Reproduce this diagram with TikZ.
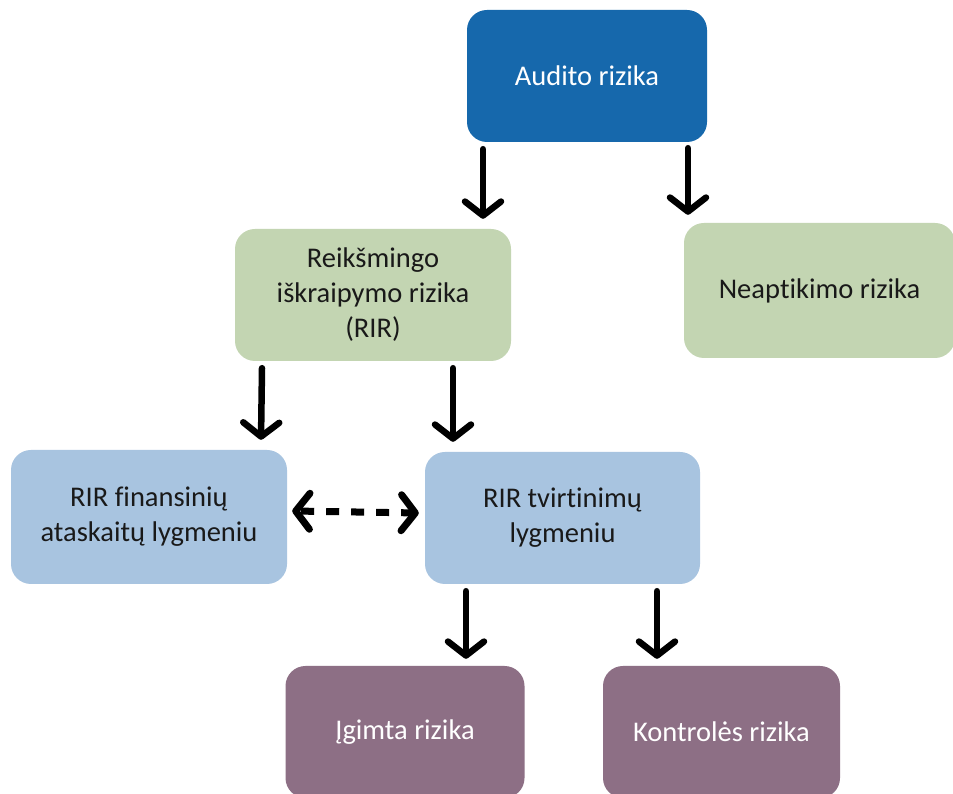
\documentclass[tikz,border=0pt]{standalone}
\usepackage{fontspec}
\setmainfont{Carlito}[RawFeature={-liga;-clig;-calt;-dlig}]
\usetikzlibrary{arrows.meta}
\definecolor{cdark}{RGB}{22,104,172}
\definecolor{cgreen}{RGB}{195,213,178}
\definecolor{cblue}{RGB}{168,196,224}
\definecolor{cpurp}{RGB}{141,111,133}
\tikzset{
  box/.style={rectangle, rounded corners=20pt, inner sep=0pt, align=center,
    font=\fontsize{28.5}{35}\selectfont},
  tipb/.tip={Straight Barb[length=14pt,width=36pt,line cap=round,line join=round]},
  arr/.style={line width=6.5pt, line cap=round, line join=round, -tipb},
  darr/.style={line width=7pt, line join=round, tipb-tipb,
    dash pattern=on 13pt off 12pt, dash phase=-2pt}
}
\begin{document}
\begin{tikzpicture}[x=1pt,y=1pt]
\clip (0,0) rectangle (953,794);
\fill[white] (0,0) rectangle (953,794);
\node[box, fill=cdark, text=white, minimum width=240pt, minimum height=132pt] (aud) at (587,718) {Audito rizika};
\node[box, fill=cgreen, text=black!90, minimum width=276pt, minimum height=132pt] (rir) at (373,499) {Reikšmingo\\iškraipymo rizika\\(RIR)};
\node[box, fill=cgreen, text=black!90, minimum width=271pt, minimum height=135pt] (nea) at (819.5,503.5) {Neap\kern0pt tikimo rizika};
\node[box, fill=cblue, text=black!90, minimum width=276pt, minimum height=134pt] (fin) at (149,277) {RIR finansinių\\ataskaitų lygmeniu};
\node[box, fill=cblue, text=black!90, minimum width=275pt, minimum height=132pt] (tvi) at (562.5,276) {RIR tvirtinimų\\lygmeniu};
\node[box, fill=cpurp, text=white, minimum width=239pt, minimum height=132pt] (igi) at (405,62) {Įgimta rizika};
\node[box, fill=cpurp, text=white, minimum width=237pt, minimum height=132pt] (kon) at (721.5,62) {Kontrolės rizika};
\draw[arr] ([xshift=-104pt,yshift=-7pt]aud.south) -- ([xshift=110pt,yshift=10pt]rir.north);
\draw[arr] ([xshift=101pt,yshift=-6pt]aud.south) -- ([xshift=-131.5pt,yshift=8pt]nea.north);
\draw[arr] ([xshift=-111pt,yshift=-7pt]rir.south) -- ([xshift=112pt,yshift=10pt]fin.north);
\draw[arr] ([xshift=80pt,yshift=-7pt]rir.south) -- ([xshift=-109.5pt,yshift=10pt]tvi.north);
\draw[arr] ([xshift=-96.5pt,yshift=-7pt]tvi.south) -- ([xshift=61pt,yshift=7pt]igi.north);
\draw[arr] ([xshift=94.5pt,yshift=-7pt]tvi.south) -- ([xshift=-64.5pt,yshift=7pt]kon.north);
\draw[darr] ([xshift=5pt,yshift=6pt]fin.east) -- ([xshift=-6pt,yshift=5pt]tvi.west);
\end{tikzpicture}
\end{document}
